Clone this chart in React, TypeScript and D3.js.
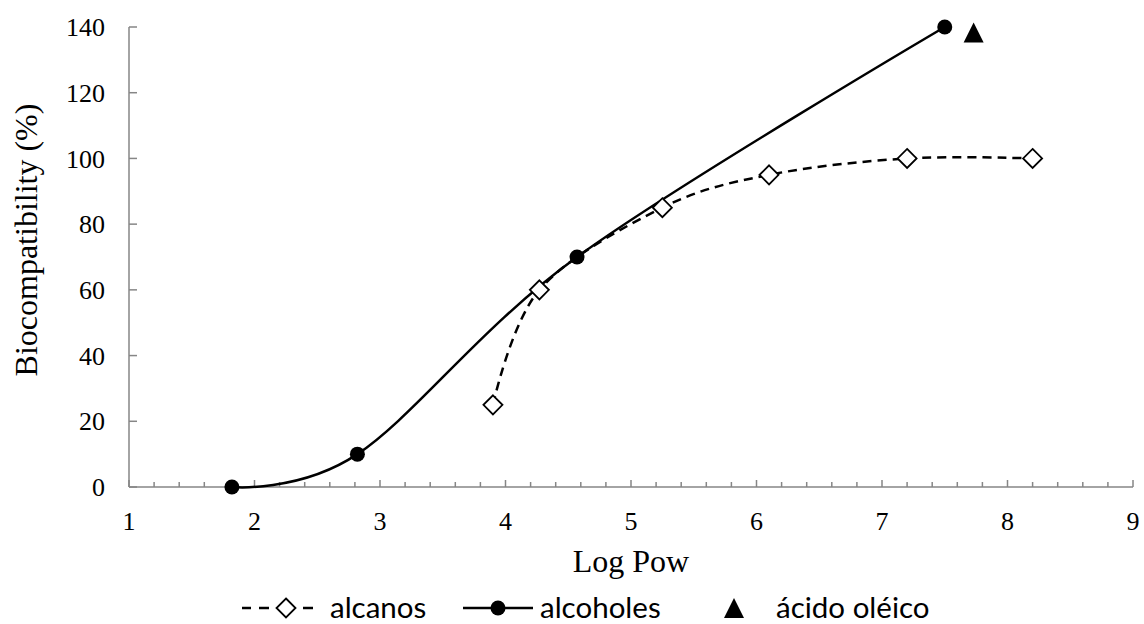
import React, { useEffect, useRef } from 'react';
import * as d3 from 'd3';

// values
const alcanosX = [3.9, 4.27, 5.25, 6.1, 7.2, 8.2];
const alcanosY = [25, 60, 85, 95, 100, 100];
const alcoholesX = [1.82, 2.82, 4.57, 7.5];
const alcoholesY = [0, 10, 70, 140];
const acidoX = [7.73];
const acidoY = [138];
const xTicks = [1, 2, 3, 4, 5, 6, 7, 8, 9];
const yTicks = [0, 20, 40, 60, 80, 100, 120, 140];
const legendLabels = ['alcanos', 'alcoholes', 'ácido oléico'];

const W = 1144;
const H = 624;
const serif = '"Liberation Serif", "Times New Roman", serif';
const sans = 'Lato, Carlito, Calibri, sans-serif';
const axisGray = '#868686';

export default function App() {
  const svgRef = useRef<SVGSVGElement>(null);

  useEffect(() => {
    if (!svgRef.current) return;
    const svg = d3.select(svgRef.current);
    svg.selectAll('*').remove();

    const x = d3.scaleLinear().domain([1, 9]).range([129, 1133]);
    const y = d3.scaleLinear().domain([0, 140]).range([487, 27]);

    // axes (Excel style, ticks pointing inwards)
    const ax = svg.append('g');
    ax.append('line')
      .attr('x1', x(1)).attr('x2', x(9))
      .attr('y1', y(0)).attr('y2', y(0))
      .attr('stroke', axisGray).attr('stroke-width', 1.5);
    ax.append('line')
      .attr('x1', x(1)).attr('x2', x(1))
      .attr('y1', y(0)).attr('y2', y(140))
      .attr('stroke', axisGray).attr('stroke-width', 1.5);

    const minor = d3.range(1, 9.001, 0.2);
    ax.selectAll('.xt')
      .data(minor)
      .enter()
      .append('line')
      .attr('x1', d => x(d)).attr('x2', d => x(d))
      .attr('y1', y(0))
      .attr('y2', d => y(0) - (Math.abs(d - Math.round(d)) < 1e-6 ? 7 : 5))
      .attr('stroke', axisGray).attr('stroke-width', 1.5);

    ax.selectAll('.yt')
      .data(yTicks)
      .enter()
      .append('line')
      .attr('x1', x(1)).attr('x2', x(1) + 8)
      .attr('y1', d => y(d)).attr('y2', d => y(d))
      .attr('stroke', axisGray).attr('stroke-width', 1.5);

    ax.selectAll('.xl')
      .data(xTicks)
      .enter()
      .append('text')
      .attr('x', d => x(d))
      .attr('y', 530)
      .attr('text-anchor', 'middle')
      .attr('font-family', serif)
      .attr('font-size', 26)
      .text(d => d);

    ax.selectAll('.yl')
      .data(yTicks)
      .enter()
      .append('text')
      .attr('x', 105)
      .attr('y', d => y(d))
      .attr('dy', '0.35em')
      .attr('text-anchor', 'end')
      .attr('font-family', serif)
      .attr('font-size', 26)
      .text(d => d);

    svg.append('text')
      .attr('x', x(5))
      .attr('y', 572)
      .attr('text-anchor', 'middle')
      .attr('font-family', serif)
      .attr('font-size', 32)
      .text('Log Pow');

    svg.append('text')
      .attr('transform', 'translate(37,240) rotate(-90)')
      .attr('text-anchor', 'middle')
      .attr('font-family', serif)
      .attr('font-size', 32)
      .text('Biocompatibility (%)');

    // series
    const line = d3.line<[number, number]>()
      .x(d => x(d[0]))
      .y(d => y(d[1]))
      .curve(d3.curveCardinal.tension(0));

    const alcanos: [number, number][] = alcanosX.map((v, i) => [v, alcanosY[i]]);
    const alcoholes: [number, number][] = alcoholesX.map((v, i) => [v, alcoholesY[i]]);
    const acido: [number, number][] = acidoX.map((v, i) => [v, acidoY[i]]);

    svg.append('path')
      .datum(alcanos)
      .attr('fill', 'none')
      .attr('stroke', '#000')
      .attr('stroke-width', 2.5)
      .attr('stroke-dasharray', '9,6')
      .attr('d', line);

    svg.append('path')
      .datum(alcoholes)
      .attr('fill', 'none')
      .attr('stroke', '#000')
      .attr('stroke-width', 2.5)
      .attr('d', line);

    const diamond = (cx: number, cy: number, r: number) =>
      `M${cx},${cy - r}L${cx + r},${cy}L${cx},${cy + r}L${cx - r},${cy}Z`;
    const triangle = (cx: number, cy: number, s: number) =>
      `M${cx},${cy - s * 0.55}L${cx + s / 2},${cy + s * 0.45}L${cx - s / 2},${cy + s * 0.45}Z`;

    svg.selectAll('.dia')
      .data(alcanos)
      .enter()
      .append('path')
      .attr('d', d => diamond(x(d[0]), y(d[1]), 9.5))
      .attr('fill', '#fff')
      .attr('stroke', '#000')
      .attr('stroke-width', 1.8);

    svg.selectAll('.dot')
      .data(alcoholes)
      .enter()
      .append('circle')
      .attr('cx', d => x(d[0]))
      .attr('cy', d => y(d[1]))
      .attr('r', 7.5)
      .attr('fill', '#000');

    svg.selectAll('.tri')
      .data(acido)
      .enter()
      .append('path')
      .attr('d', d => triangle(x(d[0]), y(d[1]), 20))
      .attr('fill', '#000');

    // legend
    const lg = svg.append('g');
    const base = 618;
    const ly = 608;
    [[242, 251], [259, 269], [303, 313]].forEach(([a, b]) => {
      lg.append('line')
        .attr('x1', a).attr('x2', b)
        .attr('y1', ly).attr('y2', ly)
        .attr('stroke', '#000').attr('stroke-width', 2.5);
    });
    lg.append('path')
      .attr('d', diamond(286, ly, 9.5))
      .attr('fill', '#fff').attr('stroke', '#000').attr('stroke-width', 1.8);
    lg.append('text')
      .attr('x', 330).attr('y', base)
      .attr('font-family', sans).attr('font-size', 29.5)
      .text(legendLabels[0]);

    lg.append('line')
      .attr('x1', 463).attr('x2', 533)
      .attr('y1', ly).attr('y2', ly)
      .attr('stroke', '#000').attr('stroke-width', 2.5);
    lg.append('circle')
      .attr('cx', 498).attr('cy', ly).attr('r', 7.5).attr('fill', '#000');
    lg.append('text')
      .attr('x', 540).attr('y', base)
      .attr('font-family', sans).attr('font-size', 29.5)
      .text(legendLabels[1]);

    lg.append('path')
      .attr('d', triangle(734, ly + 1, 20))
      .attr('fill', '#000');
    lg.append('text')
      .attr('x', 776).attr('y', base)
      .attr('font-family', sans).attr('font-size', 29.5)
      .text(legendLabels[2]);
  }, []);

  return (
    <div style={{ position: 'absolute', left: 0, top: 0 }}>
      <svg ref={svgRef} width={W} height={H} style={{ display: 'block', background: '#fff' }} />
    </div>
  );
}
